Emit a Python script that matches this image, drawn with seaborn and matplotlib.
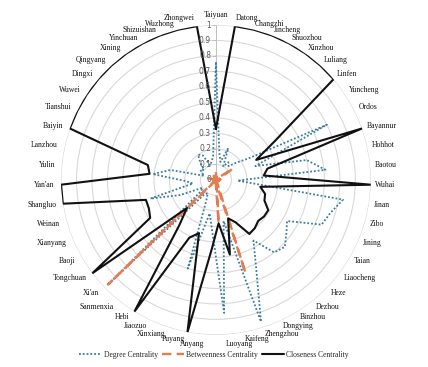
import numpy as np
import pandas as pd
import matplotlib
matplotlib.use('Agg')
import matplotlib.pyplot as plt
import matplotlib.transforms as mtransforms
from matplotlib.lines import Line2D
import seaborn as sns

# cities, clockwise from the top
cities = ['Taiyuan', 'Datong', 'Changzhi', 'Jincheng', 'Shuozhou', 'Xinzhou', 'Luliang',
          'Linfen', 'Yuncheng', 'Ordos', 'Bayannur', 'Hohhot', 'Baotou', 'Wuhai',
          'Jinan', 'Zibo', 'Jining', 'Taian', 'Liaocheng', 'Heze', 'Dezhou', 'Binzhou',
          'Dongying', 'Zhengzhou', 'Kaifeng', 'Luoyang', 'Anyang', 'Puyang', 'Xinxiang',
          'Jiaozuo', 'Hebi', 'Sanmenxia', "Xi'an", 'Tongchuan', 'Baoji', 'Xianyang',
          'Weinan', 'Shangluo', "Yan'an", 'Yulin', 'Lanzhou', 'Baiyin', 'Tianshui',
          'Wuwei', 'Dingxi', 'Qingyang', 'Xining', 'Yinchuan', 'Shizuishan', 'Wuzhong',
          'Zhongwei']

degree = [0.76, 0.18, 0.12, 0.22, 0.10, 0.14, 0.12,
          0.17, 0.25, 0.80, 0.27, 0.60, 0.71, 0.14,
          0.83, 0.77, 0.74, 0.53, 0.57, 0.62, 0.60, 0.46,
          0.62, 0.96, 0.27, 0.86, 0.35, 0.22, 0.60,
          0.15, 0.10, 0.12, 0.95, 0.12, 0.10, 0.25,
          0.44, 0.15, 0.20, 0.41, 0.30, 0.08, 0.10,
          0.12, 0.10, 0.15, 0.20, 0.18, 0.10, 0.12,
          0.15]

betweenness = [0.05, 0.02, 0.01, 0.02, 0.01, 0.01, 0.02,
               0.03, 0.13, 0.03, 0.02, 0.02, 0.03, 0.01,
               0.04, 0.02, 0.02, 0.01, 0.01, 0.01, 0.01, 0.01,
               0.02, 0.63, 0.03, 0.28, 0.02, 0.01, 0.03,
               0.02, 0.01, 0.02, 0.97, 0.01, 0.01, 0.02,
               0.02, 0.01, 0.02, 0.03, 0.05, 0.01, 0.01,
               0.01, 0.01, 0.04, 0.02, 0.03, 0.01, 0.01,
               0.01]

closeness = [0.33, 1.00, 1.00, 1.00, 1.00, 1.00, 1.00,
             1.00, 0.46, 0.29, 1.00, 0.34, 0.31, 1.00,
             0.29, 0.33, 0.34, 0.39, 0.39, 0.38, 0.40, 0.41,
             0.30, 0.26, 0.49, 0.28, 0.45, 1.00, 0.36,
             0.41, 1.00, 0.38, 0.26, 1.00, 0.49, 0.47,
             0.47, 1.00, 1.00, 0.43, 0.45, 1.00, 1.00,
             1.00, 1.00, 1.00, 1.00, 1.00, 1.00, 1.00,
             1.00]

sns.set_theme(style='white')
plt.rcParams['font.family'] = ['Liberation Serif', 'DejaVu Serif']

n = len(cities)
theta = np.linspace(0, 2 * np.pi, n, endpoint=False)

df = pd.DataFrame({
    'theta': np.append(theta, 2 * np.pi),
    'Degree': np.append(degree, degree[0]),
    'Betweenness': np.append(betweenness, betweenness[0]),
    'Closeness': np.append(closeness, closeness[0]),
})

c_deg, c_bet, c_clo = '#3a7d9c', '#e27d52', '#111111'
ls_deg, ls_bet = (0, (1, 1.1)), (0, (4, 2.2))

fig = plt.figure(figsize=(4.28, 3.67), dpi=100)
ax = fig.add_axes([0.1425, 0.0872, 0.724, 0.845], projection='polar')
ax.set_theta_zero_location('N')
ax.set_theta_direction(-1)

rings = np.round(np.arange(0, 1.01, 0.1), 1)
ax.set_ylim(0, 1)
ax.set_yticks(rings[1:])
ax.set_yticklabels([])
ax.set_xticks([])
ax.yaxis.grid(True, color='#d9d9d9', lw=0.8)
ax.spines['polar'].set_visible(False)

# value axis along Taiyuan
ax.plot([0, 0], [0, 1], color='#bfbfbf', lw=0.7, zorder=1)
ax.plot(np.zeros(len(rings)), rings, ls='none', marker=0, ms=3, mew=0.7,
        color='#bfbfbf', zorder=1)
off = mtransforms.offset_copy(ax.transData, fig=fig, x=-3.5, y=0, units='points')
for r in rings:
    ax.text(0, r, f'{r:g}', transform=off, ha='right', va='center',
            fontsize=5.5, color='#595959', family='DejaVu Sans')

sns.lineplot(data=df, x='theta', y='Degree', ax=ax, sort=False,
             color=c_deg, linestyle=ls_deg, lw=1.3)
sns.lineplot(data=df, x='theta', y='Betweenness', ax=ax, sort=False,
             color=c_bet, linestyle=ls_bet, lw=1.7)
sns.lineplot(data=df, x='theta', y='Closeness', ax=ax, sort=False,
             color=c_clo, lw=1.5)
ax.set_xlabel('')
ax.set_ylabel('')

# category labels just outside the outer ring, staggered near top and bottom
for t, name in zip(theta, cities):
    s, c = np.sin(t), np.cos(t)
    ha = 'left' if s > 0.01 else ('right' if s < -0.01 else 'center')
    dx = -1.5 if s < -0.01 else 0
    if abs(c) > 0.8:
        dy = np.sign(c) * (1.1 + 2.9 * np.clip((abs(c) - 0.98) / 0.02, 0, 1))
    else:
        dy = 2.2 * c
    tr = mtransforms.offset_copy(ax.transData, fig=fig, x=dx, y=dy, units='points')
    ax.text(t, 1.03, name, ha=ha, va='center', fontsize=5.5, color='#111111',
            transform=tr)

handles = [Line2D([], [], color=c_deg, linestyle=ls_deg, lw=1.3),
           Line2D([], [], color=c_bet, linestyle=ls_bet, lw=1.7),
           Line2D([], [], color=c_clo, lw=1.5)]
fig.legend(handles, ['Degree Centrality', 'Betweenness Centrality', 'Closeness Centrality'],
           loc='center', bbox_to_anchor=(0.5, 0.033), ncol=3, frameon=False,
           fontsize=5.5, handlelength=2.9, handletextpad=0.3, columnspacing=0.5)

fig.savefig('out.png', dpi=100, facecolor='white')
